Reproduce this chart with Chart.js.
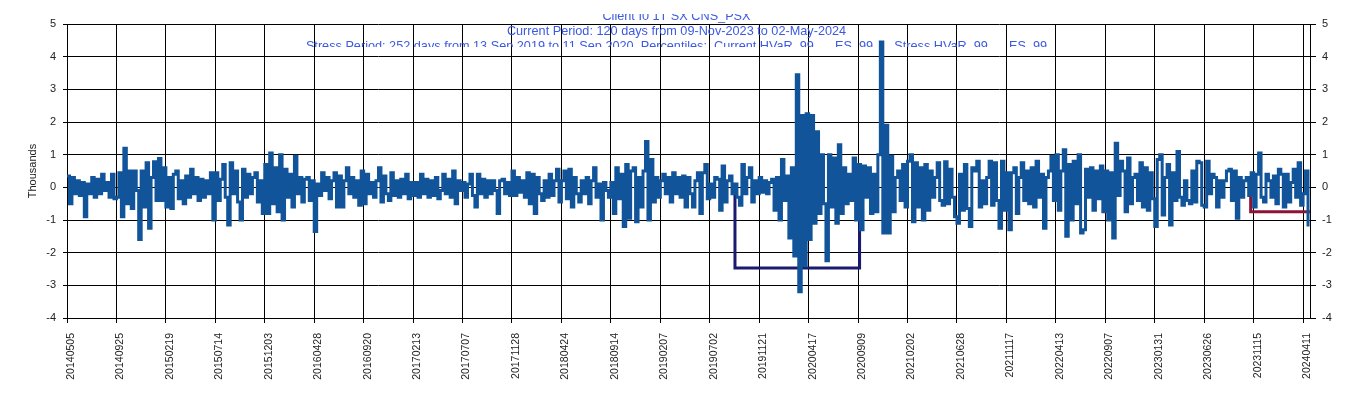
<!DOCTYPE html>
<html>
<head>
<meta charset="utf-8">
<script src="https://cdn.jsdelivr.net/npm/chart.js@4"></script>
<style>
  html, body { margin: 0; padding: 0; background: #fff; }
  #wrap { width: 1353px; height: 398px; }
</style>
</head>
<body>
<div id="wrap"><canvas id="hvarChart" width="1353" height="398"></canvas></div>
<script>
// daily P&L (thousands), one value every 5 trading days
var step = 5;
var pnl = [
  0.35, -0.5, 0.3, -0.2, 0.2, -0.25, 0.15, -0.9, 0.1, -0.2, 0.3, -0.3, 0.25, -0.2, 0.4, -0.1, 0.15, -0.3, 0.4, -0.35,
  -0.3, 0.45, -0.9, 1.2, -0.5, 0.5, -0.65, 0.5, -0.1, -1.6, 0.5, -0.6, 0.75, -1.25, 0.3, 0.78, -0.4, 0.88, -0.4, 0.6,
  -0.6, 0.3, -0.65, 0.4, 0.5, -0.35, 0.2, -0.5, 0.35, -0.3, 0.55, -0.2, 0.3, -0.4, 0.25, -0.3, 0.2, -0.2, 0.45, -1.0,
  0.45, -0.4, 0.25, 0.7, -0.3, -1.15, 0.75, -0.2, 0.5, -0.45, -1.0, 0.55, -0.3, 0.4, -0.2, 0.3, 0.45, -0.45, 0.2, -0.8,
  0.7, -0.8, 1.05, -0.5, 0.6, -0.75, 1.0, -1.0, 0.55, -0.3, 0.4, -0.6, 0.95, -0.2, 0.3, -0.45, 0.25, 0.3, -0.4, 0.2,
  -1.35, 0.1, -0.25, 0.45, -0.1, 0.3, -0.35, 0.2, 0.45, -0.6, 0.35, -0.6, 0.2, 0.6, -0.2, 0.3, -0.3, 0.2, -0.55, 0.5,
  -0.5, 0.4, -0.2, 0.15, -0.3, 0.2, 0.6, -0.45, 0.35, -0.2, -0.4, 0.45, -0.25, 0.2, -0.3, 0.25, -0.2, 0.4, -0.35, 0.15,
  -0.25, 0.15, -0.3, 0.4, -0.2, 0.25, -0.3, 0.2, -0.25, 0.3, -0.35, -0.1, 0.4, -0.2, 0.25, -0.3, 0.5, -0.5, 0.2, -0.1,
  0.15, -0.3, 0.1, 0.4, -0.25, -0.6, 0.4, -0.2, 0.25, -0.3, 0.2, -0.2, 0.2, -0.1, -0.8, 0.2, 0.25, -0.2, 0.15, -0.25,
  0.5, -0.25, 0.3, -0.15, 0.2, -0.3, 0.45, -0.5, 0.4, -0.8, 0.3, -0.2, -0.4, 0.2, -0.3, 0.4, -0.25, 0.2, 0.55, -0.45,
  0.2, 0.5, -0.35, 0.55, -0.6, 0.3, -0.2, -0.45, 0.2, -0.2, 0.3, -0.5, 0.2, 0.6, -0.3, 0.1, -1.0, 0.15, -0.1, -0.3,
  0.15, -0.8, 0.6, -0.35, 0.4, -1.2, 0.7, -0.95, 0.5, 0.6, -1.05, 0.3, -0.6, 0.5, 1.4, -1.0, 0.85, -0.45, 0.3, -0.3,
  0.2, 0.4, -0.2, 0.3, -0.45, 0.45, -0.2, 0.3, -0.3, 0.35, -0.6, 0.3, -0.2, -0.6, 0.2, 0.45, -0.8, 0.45, 0.7, -0.35,
  0.1, -0.3, 0.3, 0.25, -0.7, 0.65, -0.45, 0.2, 0.35, -0.2, 0.1, -0.3, -0.55, 0.7, -0.2, 0.3, 0.6, -0.45, 0.2, -0.2,
  0.3, -0.15, 0.2, -0.2, 0.15, 0.25, -0.7, 0.3, -1.0, 0.85, -0.4, 0.35, -1.55, 0.6, -2.1, 3.45, -3.2, 2.2, -2.4, 2.25,
  -1.6, 2.2, -1.1, 1.7, -0.8, 1.0, -0.5, -2.25, 1.0, -0.6, 0.9, -1.1, 1.3, -0.8, 0.6, -0.5, 0.4, -0.4, 0.9, -1.0,
  0.7, -1.3, 0.65, -0.3, 0.6, -0.8, 0.4, -0.75, 1.0, 4.45, -1.4, 1.9, -1.4, 0.95, -0.75, 0.3, 0.5, -0.4, 0.7, -0.6,
  0.8, 1.0, -1.05, 0.75, -0.6, 0.6, -1.0, 0.7, -0.7, 0.5, -0.3, 0.3, 0.75, -0.4, -0.55, 0.78, -0.5, 0.55, -0.3, -0.9,
  -1.1, 0.4, -0.7, 0.7, -0.65, -1.2, 0.6, 0.5, 0.8, -0.6, 0.2, -0.5, 0.3, 0.8, -0.55, 0.75, -0.4, -1.25, 0.8, -0.7,
  0.45, -1.3, 0.45, 0.6, -0.8, 0.3, 0.75, -0.4, 0.5, -0.5, 0.6, -0.6, 0.8, -0.3, 0.4, -1.25, 0.3, 0.5, 0.95, -0.4,
  1.0, -0.7, 0.5, 1.15, -1.5, 0.7, -1.0, 0.8, -0.5, 1.0, -1.4, -1.3, 0.55, -0.3, 0.6, -0.7, 0.5, -0.35, 0.65, -0.75,
  0.5, -1.0, 0.45, -1.55, 1.35, -0.25, 0.8, 0.5, -0.75, 0.9, -0.5, 0.3, 0.4, -0.4, 0.75, -0.6, 0.6, -0.7, 0.45, -0.35,
  -1.2, 0.85, 1.0, -0.85, 0.3, 0.7, -1.15, 0.45, -0.4, 1.1, -0.3, -0.55, 0.2, -0.4, -0.5, 0.5, -0.45, 0.8, 0.75, -0.55,
  -0.6, 0.8, -0.2, 0.4, 0.3, -0.6, 0.2, -0.3, 0.2, 0.5, 0.55, -0.4, 0.5, -0.95, 0.3, -0.3, 0.2, 0.3, -0.25, 0.45,
  -0.6, 0.4, 1.05, -0.3, -0.45, 0.4, 0.2, -0.3, 0.35, -0.5, 0.55, 0.4, -0.6, 0.4, -0.45, 0.15, 0.55, -0.3, 0.75, -0.55,
  -0.2, 0.5, -1.2
];

var tickLabels = ['20140505', '20140925', '20150219', '20150714', '20151203', '20160428', '20160920',
  '20170213', '20170707', '20171128', '20180424', '20180914', '20190207', '20190702', '20191121',
  '20200417', '20200909', '20210202', '20210628', '20211117', '20220413', '20220907', '20230131',
  '20230626', '20231115', '20240411'];

var lastDay = 2514;
// HVaR levels (thousands) and their windows, as trading-day indexes
var stressHvar = -2.47, stressStart = 1351, stressEnd = 1603;
var currentHvar = -0.75, currentStart = 2394;

var titleLines = [
  'Client I0 1T SX CNS_PSX',
  'Current Period: 120 days from 09-Nov-2023 to 02-May-2024',
  'Stress Period: 252 days from 13 Sep 2019 to 11 Sep 2020, Percentiles:  Current HVaR .99      ES .99      Stress HVaR .99      ES .99'
];

var font = 'Arial, "Liberation Sans", sans-serif';

var pnlPoints = pnl.map(function (v, i) { return { x: i * step, y: v }; });
var stressPoints = [
  { x: stressStart, y: 0 }, { x: stressStart, y: stressHvar },
  { x: stressEnd, y: stressHvar }, { x: stressEnd, y: 0 }
];
var currentPoints = [
  { x: currentStart, y: 0 }, { x: currentStart, y: currentHvar }, { x: lastDay, y: currentHvar }
];

// clipped three-line title, drawn over the plot like the original
var titlePlugin = {
  id: 'clippedTitle',
  afterDraw: function (chart) {
    var ctx = chart.ctx;
    ctx.save();
    ctx.beginPath();
    ctx.rect(0, 14, chart.width, 33);
    ctx.clip();
    ctx.fillStyle = 'rgb(60,90,225)';
    ctx.font = '12.7px ' + font;
    ctx.textAlign = 'center';
    ctx.textBaseline = 'alphabetic';
    titleLines.forEach(function (t, i) {
      ctx.fillText(t, chart.width / 2, 20 + i * 15);
    });
    ctx.restore();
  }
};

var ctx = document.getElementById('hvarChart').getContext('2d');
var chart = new Chart(ctx, {
  type: 'line',
  data: {
    datasets: [{
      data: pnlPoints,
      borderColor: 'rgb(17,84,154)',
      borderWidth: 3,
      pointRadius: 0,
      stepped: true
    }, {
      data: currentPoints,
      borderColor: 'rgb(140,20,55)',
      borderWidth: 3,
      pointRadius: 0,
      tension: 0
    }, {
      data: stressPoints,
      borderColor: 'rgb(26,26,110)',
      borderWidth: 3,
      pointRadius: 0,
      tension: 0
    }]
  },
  options: {
    responsive: false,
    animation: false,
    layout: { padding: { top: 24, left: 0, right: 0, bottom: 0 } },
    plugins: { legend: { display: false }, tooltip: { enabled: false }, title: { display: false } },
    scales: {
      x: {
        type: 'linear',
        min: 0,
        max: lastDay,
        afterFit: function (s) { s.height = 80; },
        grid: { color: '#000', lineWidth: 1, tickLength: 5, tickColor: '#000' },
        border: { color: '#000' },
        ticks: {
          stepSize: 100,
          includeBounds: false,
          autoSkip: false,
          maxRotation: 90,
          minRotation: 90,
          padding: 10,
          labelOffset: 4,
          color: '#222',
          font: { family: font, size: 10.5 },
          callback: function (v) { return tickLabels[Math.round(v / 100)]; }
        }
      },
      y: {
        position: 'left',
        min: -4,
        max: 5,
        afterFit: function (s) { s.width = 67; },
        grid: { color: '#000', lineWidth: 1, tickLength: 4, tickColor: '#000' },
        border: { color: '#000' },
        title: { display: true, text: 'Thousands', color: '#222', font: { family: font, size: 11 }, padding: { top: 26, bottom: 0 } },
        ticks: { stepSize: 1, padding: 7, color: '#222', font: { family: font, size: 11 } }
      },
      y2: {
        position: 'right',
        min: -4,
        max: 5,
        afterFit: function (s) { s.width = 43; },
        grid: { drawOnChartArea: false, tickLength: 6, tickColor: '#000' },
        border: { color: '#000' },
        ticks: { stepSize: 1, padding: 6, color: '#222', font: { family: font, size: 11 } }
      }
    }
  },
  plugins: [titlePlugin]
});
</script>
</body>
</html>
